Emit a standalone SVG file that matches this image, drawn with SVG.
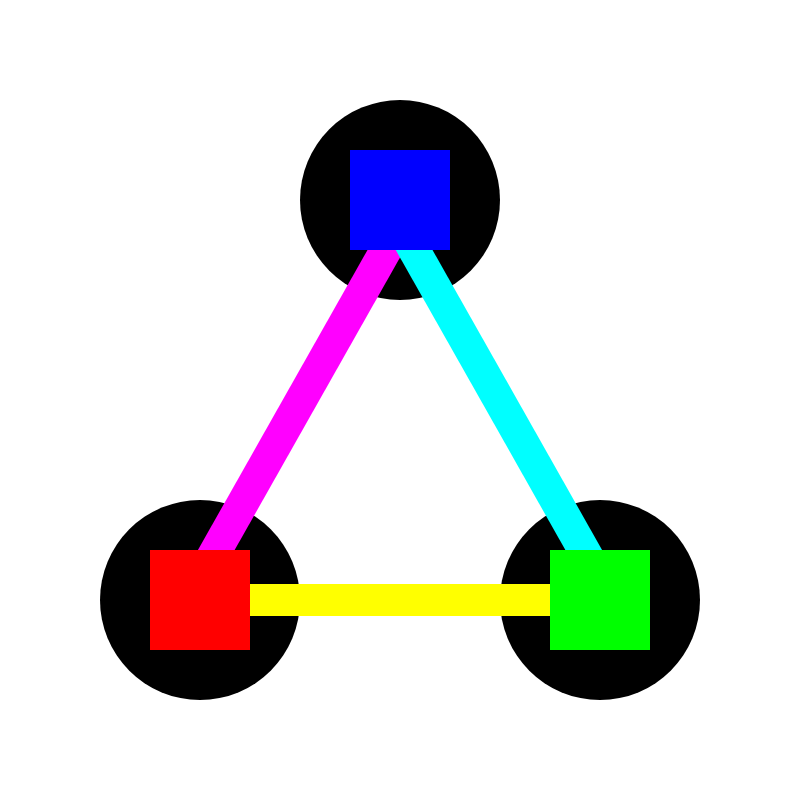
<svg xmlns="http://www.w3.org/2000/svg" width="800" height="800" viewBox="0 0 800 800">
<style>
.c{fill:#000}
.e{stroke-width:32;fill:none;stroke-linecap:butt}
</style>
<rect width="800" height="800" fill="#fff"/>
<g id="circles">
<circle class="c" cx="400" cy="200" r="100"/>
<circle class="c" cx="200" cy="600" r="100"/>
<circle class="c" cx="600" cy="600" r="100"/>
</g>
<g id="connectors">
<line class="e" x1="400" y1="225" x2="188" y2="600" stroke="#f0f"/>
<line class="e" x1="400" y1="225" x2="612" y2="600" stroke="#0ff"/>
<line class="e" x1="200" y1="600" x2="600" y2="600" stroke="#ff0"/>
</g>
<g id="node-top"><rect x="350" y="150" width="100" height="100" fill="#00f"/></g>
<g id="node-left"><rect x="150" y="550" width="100" height="100" fill="#f00"/></g>
<g id="node-right"><rect x="550" y="550" width="100" height="100" fill="#0f0"/></g>
</svg>
